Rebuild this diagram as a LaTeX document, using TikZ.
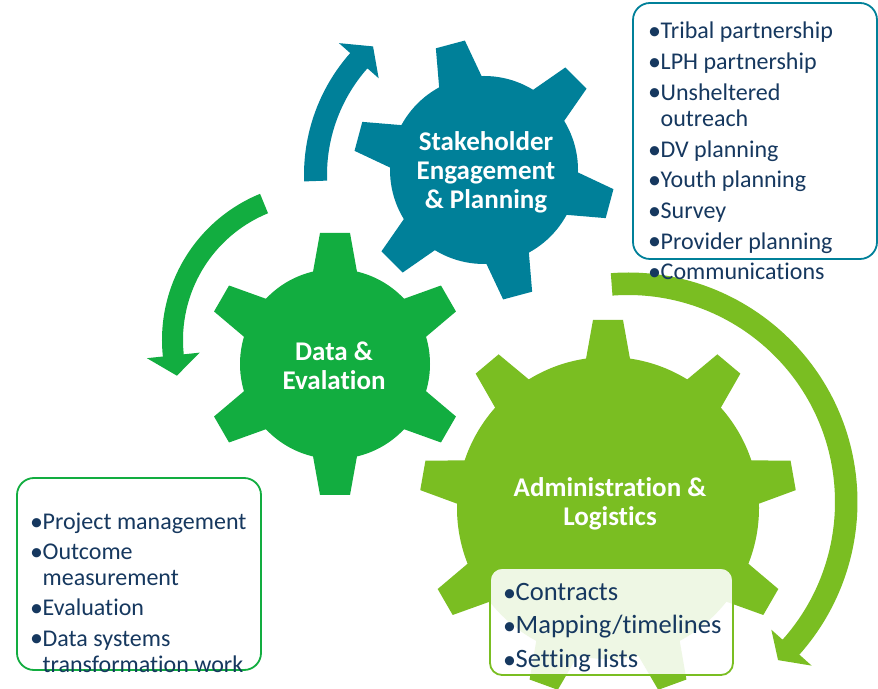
\documentclass[tikz,border=0pt]{standalone}
\usepackage{fontspec}
\setmainfont{Carlito}[Ligatures={NoCommon,NoContextual}]
\usetikzlibrary{calc}
\definecolor{tealc}{RGB}{0,128,153}
\definecolor{dgreen}{RGB}{18,173,64}
\definecolor{lgreen}{RGB}{122,190,34}
\definecolor{navy}{RGB}{22,56,95}
\newcommand{\bul}{\makebox[12.5pt][l]{\raisebox{-0.8pt}{\fontsize{26}{0}\selectfont •}}}
\newcommand{\ind}{\hspace*{12.5pt}}
% #1 centre, #2 body radius, #3 outer radius, #4 teeth, #5 first angle, #6 colour
\newcommand{\drawgear}[6]{%
  \fill[#6] (#1) circle[radius=#2pt];
  \foreach \k in {1,...,#4}{%
    \pgfmathsetmacro{\ang}{#5+360*(\k-1)/#4}%
    \pgfmathsetmacro{\hb}{15+0.18*(#3-#2+8)}%
    \fill[#6, shift={(#1)}, rotate=\ang]
      ({#2-8},-\hb) -- (#3,-15) -- (#3,15) -- ({#2-8},\hb) -- cycle;
  }%
}
\begin{document}
\begin{tikzpicture}[x=1pt,y=1pt,
  titletext/.style={text=white, font=\fontsize{27}{29}\selectfont\bfseries, align=center, inner sep=0},
  listtext/.style={text=navy, anchor=base west, inner sep=0},
  listbox/.style={line width=1.8pt, minimum width=244pt, inner sep=0}]
\useasboundingbox (0,0) rectangle (878,688);
\fill[white] (0,0) rectangle (878,688);
% gears
\coordinate (gd) at (335,324);
\coordinate (gs) at (484,518);
\coordinate (ga) at (608,180);
\drawgear{gd}{95}{131}{6}{90}{dgreen}
\drawgear{gs}{94}{130}{6}{105}{tealc}
\drawgear{ga}{151}{188}{9}{90}{lgreen}
% circular arrows
\begin{scope}[shift={(488,513)}]
\fill[tealc] (182:184) arc[start angle=182, end angle=138.5, radius=184pt]
  -- (138.5:199) -- (131.8:172.5) -- (138.5:146) -- (138.5:161)
  arc[start angle=138.5, end angle=182, radius=161pt] -- cycle;
\end{scope}
\begin{scope}[shift={(320,348)}]
\fill[dgreen] (112.3:158) arc[start angle=112.3, end angle=186, radius=158pt]
  -- (186:174) -- (194:147.5) -- (186:121) -- (186:137)
  arc[start angle=186, end angle=112.3, radius=137pt] -- cycle;
\end{scope}
\begin{scope}[shift={(628,186)}]
\fill[lgreen] (94.3:229.5) arc[start angle=94.3, end angle=-41.7, radius=229.5pt]
  -- (-41.7:246) -- (-46.5:218) -- (-41.7:192) -- (-41.7:207)
  arc[start angle=-41.7, end angle=94.3, radius=207pt] -- cycle;
\end{scope}
% titles
\node[titletext] (ts) at (486,516) {Stakeholder\\Engagement\\\& Planning};
\node[titletext] (td) at (334,322) {Data \&\\Evalation};
\node[titletext] (ta) at (610,184) {Administration \&\\Logistics};
% boxes
\node[listbox, draw=tealc, fill=white, rounded corners=17pt, minimum height=256pt] (boxs) at (755,557) {};
\node[listbox, draw=dgreen, fill=white, rounded corners=17pt, minimum height=192pt] (boxd) at (139,114) {};
\node[listbox, draw=lgreen, fill=white, fill opacity=0.88, rounded corners=12pt, minimum width=243pt, minimum height=107pt] (boxa) at (611.5,66.5) {};
% lists
\node[listtext] (lists) at (648,649) {\parbox[t]{230pt}{\raggedright\fontsize{24}{26.5}\selectfont\setlength{\parskip}{4.1pt}%
\bul Tribal partnership\par
\bul LPH partnership\par
\bul Unsheltered\\\ind outreach\par
\bul DV planning\par
\bul Youth planning\par
\bul Survey\par
\bul Provider planning\par
\bul Communications}};
\node[listtext] (listd) at (30,158.7) {\parbox[t]{230pt}{\raggedright\fontsize{24}{26.5}\selectfont\setlength{\parskip}{3.6pt}%
\bul Project management\par
\bul Outcome\\\ind measurement\par
\bul Evaluation\par
\bul Data systems\\\ind transformation work}};
\node[listtext] (lista) at (503,87.3) {\parbox[t]{230pt}{\raggedright\fontsize{26.5}{33.3}\selectfont\setlength{\parskip}{0pt}%
\bul Contracts\par
\bul Mapping/timelines\par
\bul Setting lists}};
\end{tikzpicture}
\end{document}
